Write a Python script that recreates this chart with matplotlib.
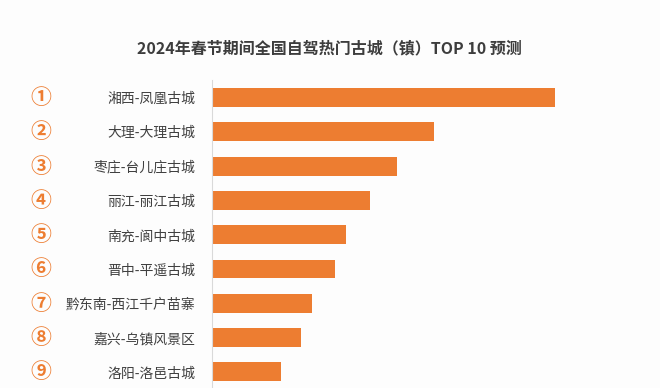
import matplotlib
matplotlib.use('Agg')
import matplotlib.pyplot as plt
from matplotlib import transforms

plt.rcParams['font.family'] = ['Noto Sans CJK SC', 'DejaVu Sans']

title = '2024年春节期间全国自驾热门古城（镇）TOP 10 预测'
ranks = ['①', '②', '③', '④', '⑤', '⑥', '⑦', '⑧', '⑨']
towns = ['湘西-凤凰古城', '大理-大理古城', '枣庄-台儿庄古城', '丽江-丽江古城',
         '南充-阆中古城', '晋中-平遥古城', '黔东南-西江千户苗寨',
         '嘉兴-乌镇风景区', '洛阳-洛邑古城']
# relative heat
values = [343, 222, 185, 158, 134, 123, 100, 89, 69]

bar_color = '#ED7D31'
bg = '#fdfdfd'

fig = plt.figure(figsize=(6.6, 3.88), dpi=100, facecolor=bg)
ax = fig.add_axes([212 / 660, 0, 428 / 660, 308 / 388], facecolor=bg)

y = list(range(len(towns)))
ax.barh(y, values, height=0.55, color=bar_color)
ax.set_xlim(0, 428)
ax.set_ylim(8.47, -0.51)

ax.set_yticks(y)
ax.set_yticklabels(towns, fontsize=10, color='#404040')
ax.tick_params(axis='y', length=0, pad=12)
ax.set_xticks([])
for s in ['top', 'right', 'bottom']:
    ax.spines[s].set_visible(False)
ax.spines['left'].set_color('#d9d9d9')
ax.spines['left'].set_linewidth(0.8)

trans = transforms.blended_transform_factory(fig.transFigure, ax.transData)
for i, r in enumerate(ranks):
    ax.text(41 / 660, i, r, transform=trans, ha='center', va='center',
            fontsize=15, fontweight='bold', color=bar_color)

fig.text(329 / 660, 1 - 48 / 388, title, ha='center', va='center',
         fontsize=11.5, fontweight='bold', color='#3d3d3d')

fig.savefig('out.png', dpi=100, facecolor=bg)
